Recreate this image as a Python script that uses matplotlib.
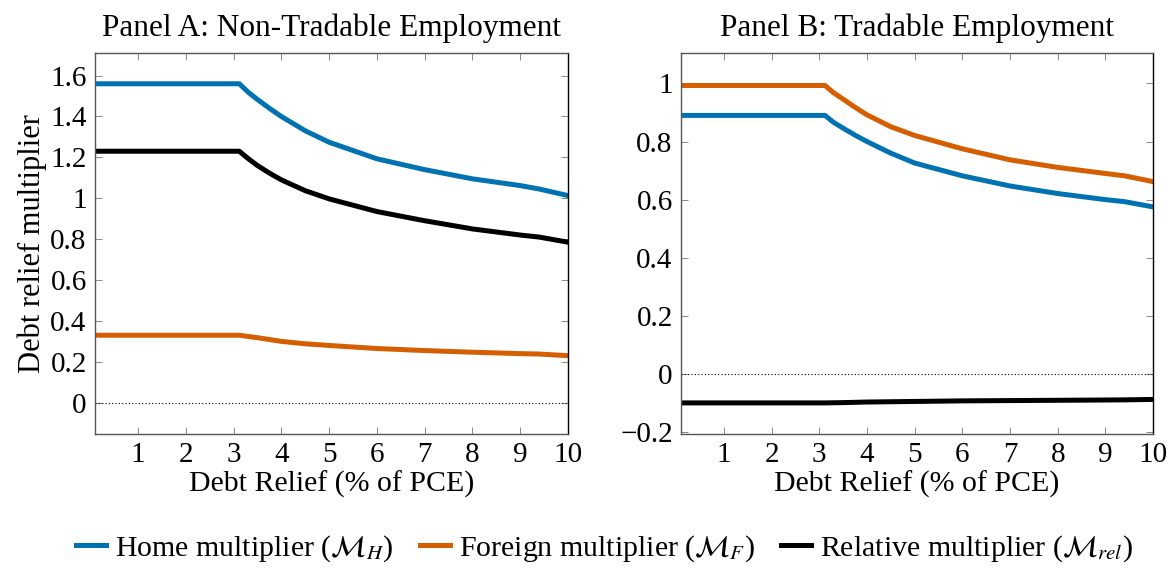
from matplotlib import pyplot as plt
from matplotlib.ticker import FuncFormatter, MultipleLocator
import numpy as np

plt.rcParams['font.family'] = ['Liberation Serif', 'DejaVu Serif']
plt.rcParams['mathtext.fontset'] = 'stix'

# debt relief (% of PCE)
relief = [0.1, 1, 2, 3, 3.12, 3.3, 3.5, 3.75, 4, 4.5, 5, 6, 7, 8, 9, 9.4, 10]

# Panel A: non-tradable employment
nt_home = [1.56, 1.56, 1.56, 1.56, 1.56, 1.52, 1.483, 1.44, 1.40, 1.33, 1.274, 1.193, 1.14, 1.095, 1.062, 1.045, 1.013]
nt_foreign = [0.33, 0.33, 0.33, 0.33, 0.33, 0.324, 0.318, 0.309, 0.30, 0.288, 0.28, 0.265, 0.255, 0.247, 0.24, 0.238, 0.23]
nt_rel = [1.23, 1.23, 1.23, 1.23, 1.23, 1.195, 1.16, 1.123, 1.09, 1.037, 0.997, 0.935, 0.89, 0.85, 0.82, 0.81, 0.785]

# Panel B: tradable employment
t_home = [0.89, 0.89, 0.89, 0.89, 0.89, 0.866, 0.846, 0.822, 0.80, 0.76, 0.726, 0.682, 0.647, 0.621, 0.60, 0.593, 0.575]
t_foreign = [0.993, 0.993, 0.993, 0.993, 0.993, 0.968, 0.946, 0.918, 0.892, 0.851, 0.821, 0.775, 0.737, 0.711, 0.69, 0.682, 0.662]
t_rel = [-0.10, -0.10, -0.10, -0.10, -0.10, -0.0995, -0.099, -0.098, -0.097, -0.096, -0.095, -0.093, -0.092, -0.091, -0.090, -0.0895, -0.088]

blue = '#0072B2'
orange = '#D55E00'


def fmt(v, pos):
    if abs(v) < 1e-9:
        return "0"
    s = f"{v:.1f}"
    if s.endswith(".0"):
        s = s[:-2]
    return s.replace("-", "\u2212")


def style_axes(ax, ylim):
    ax.set_xlim(0.1, 10)
    ax.set_ylim(*ylim)
    ax.set_xticks(range(1, 11))
    ax.yaxis.set_major_locator(MultipleLocator(0.2))
    ax.yaxis.set_major_formatter(FuncFormatter(fmt))
    ax.tick_params(direction='in', top=True, right=True, length=5, width=0.7,
                   color='#888888', labelsize=21, pad=6)
    for sp in ax.spines.values():
        sp.set_linewidth(1.0)
        sp.set_color('#555555')
    ax.spines['right'].set_color('black')
    ax.axhline(0, color='black', linestyle=(0, (1, 2)), linewidth=0.8)
    ax.set_xlabel("Debt Relief (% of PCE)", fontsize=21.5, labelpad=2)


fig = plt.figure(figsize=(11.76, 5.69), dpi=100)
axA = fig.add_axes([0.0808, 0.2373, 0.4022, 0.6701])
axB = fig.add_axes([0.5791, 0.2373, 0.4014, 0.6701])

lw = 3.6
axA.plot(relief, nt_home, color=blue, lw=lw, label=r"Home multiplier ($\mathcal{M}_H$)")
axA.plot(relief, nt_foreign, color=orange, lw=lw, label=r"Foreign multiplier ($\mathcal{M}_F$)")
axA.plot(relief, nt_rel, color='black', lw=lw, label=r"Relative multiplier ($\mathcal{M}_{rel}$)")
style_axes(axA, (-0.153, 1.712))
axA.set_ylabel("Debt relief multiplier", fontsize=22, labelpad=2)
axA.set_title("Panel A: Non-Tradable Employment", fontsize=22.5, pad=12)

axB.plot(relief, t_home, color=blue, lw=lw)
axB.plot(relief, t_foreign, color=orange, lw=lw)
axB.plot(relief, t_rel, color='black', lw=lw)
style_axes(axB, (-0.207, 1.106))
axB.set_title("Panel B: Tradable Employment", fontsize=22.5, pad=12)

handles, labels = axA.get_legend_handles_labels()
fig.legend(handles, labels, loc='center', bbox_to_anchor=(0.514, 0.036), ncol=3,
           frameon=False, fontsize=21.5, handlelength=1.0, handletextpad=0.3,
           columnspacing=0.9)

plt.savefig("out.png", dpi=100)
plt.close()
